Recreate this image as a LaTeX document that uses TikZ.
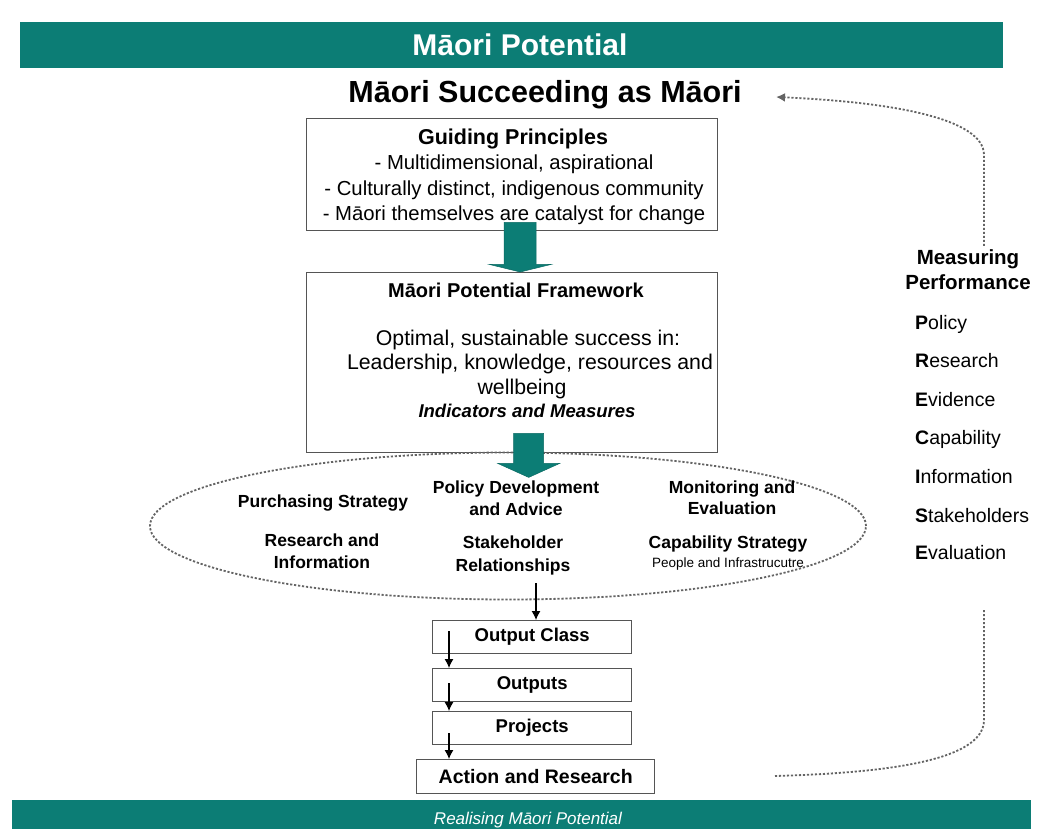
\documentclass[tikz,border=0pt]{standalone}
\usepackage{fontspec}
\setmainfont{Liberation Sans}
\usetikzlibrary{shapes.geometric,arrows.meta,calc}
\definecolor{mpteal}{RGB}{12,125,117}
\definecolor{boxline}{RGB}{85,85,85}
\definecolor{dotgray}{RGB}{100,100,100}
\newcommand{\fsz}[2]{\fontsize{#1}{#2}\selectfont}

\begin{document}
\begin{tikzpicture}[x=1pt,y=-1pt,
  banner/.style={fill=mpteal, draw=none, inner sep=0pt, anchor=north west},
  box/.style={draw=boxline, line width=1.4pt, fill=white, inner sep=0pt, anchor=north west},
  smallbox/.style={box, font=\bfseries\fsz{18.5}{20}},
  txt/.style={inner sep=0pt, anchor=base, text=black},
  head/.style={txt, font=\bfseries\fsz{21.5}{24}},
  body/.style={txt, font=\fsz{20.3}{24}},
  fbody/.style={txt, font=\fsz{21.3}{24}},
  oval/.style={txt, font=\bfseries\fsz{17.5}{20}},
  meas/.style={inner sep=0pt, anchor=base west, font=\fsz{19.5}{22}},
  blockarrow/.style={fill=mpteal, draw=mpteal!85!black, line width=0.5pt},
  flow/.style={line width=1.1pt, -{Latex[length=9pt,width=9pt]}},
  dots/.style={draw=dotgray, line width=1.8pt, dash pattern=on 2.2pt off 1.8pt},
]
\useasboundingbox (0,0) rectangle (1039,829);

% banners
\node[banner, minimum width=983, minimum height=46] (topbar) at (20,22) {};
\node[txt, text=white, font=\bfseries\fsz{30}{34}] (topT) at (520,56) {Māori Potential};
\node[banner, minimum width=1019, minimum height=29] (botbar) at (12,800) {};
\node[txt, text=white, font=\itshape\fsz{17}{20}] (botT) at (528,824) {Realising Māori Potential};

% heading
\node[txt, font=\bfseries\fsz{30.5}{34}] (succ) at (545,103) {Māori Succeeding as Māori};

% guiding principles
\node[box, minimum width=411, minimum height=112] (gp) at (306,118) {};
\node[head] (gp1) at (513,145) {Guiding Principles};
\node[body] (gp2) at (514,170) {- Multidimensional, aspirational};
\node[body] (gp3) at (514,196) {- Culturally distinct, indigenous community};
\node[body] (gp4) at (514,221) {- Māori themselves are catalyst for change};

% framework
\node[box, minimum width=411, minimum height=180] (fw) at (306,272) {};
\node[head, font=\bfseries\fsz{20}{22}] (fw1) at (516,298) {Māori Potential Framework};
\node[fbody] (fw2) at (528,345) {Optimal, sustainable success in:};
\node[fbody] (fw3) at (530,369) {Leadership, knowledge, resources and};
\node[fbody] (fw4) at (522,394) {wellbeing};
\node[txt, font=\bfseries\itshape\fsz{18.5}{20}] (fw5) at (527,417) {Indicators and Measures};

% teal block arrows between the boxes
\coordinate (a1) at ($(gp.south)+(8,0)$);
\path[blockarrow] ($(a1)+(-16,-9)$) -- ($(a1)+(16,-9)$) -- ($(a1)+(16,33)$)
  -- ($(a1)+(31,33)$) -- (a1 |- fw.north) -- ($(a1)+(-31,33)$) -- ($(a1)+(-16,33)$) -- cycle;

% activity ellipse
\node[ellipse, dots, minimum width=716, minimum height=147, inner sep=0pt] (el) at (508,526) {};

\coordinate (a2) at ($(fw.south)+(16.5,0)$);
\path[blockarrow] ($(a2)+(-15,-20)$) -- ($(a2)+(15,-20)$) -- ($(a2)+(15,10)$)
  -- ($(a2)+(31,10)$) -- ($(a2)+(0,24)$) -- ($(a2)+(-31,10)$) -- ($(a2)+(-15,10)$) -- cycle;

\node[oval] (pu) at (323,507) {Purchasing Strategy};
\node[oval] (pd1) at (516,493) {Policy Development};
\node[oval] (pd2) at (516,515) {and Advice};
\node[oval] (me1) at (732,493) {Monitoring and};
\node[oval] (me2) at (732,514) {Evaluation};
\node[oval] (ri1) at (322,546) {Research and};
\node[oval] (ri2) at (322,568) {Information};
\node[oval] (sr1) at (513,548) {Stakeholder};
\node[oval] (sr2) at (513,571) {Relationships};
\node[oval] (cs1) at (728,548) {Capability Strategy};
\node[txt, font=\fsz{13.5}{15}] (cs2) at (728,567) {People and Infrastrucutre};

% output chain
\node[smallbox, minimum width=199, minimum height=33] (oc) at (432,620) {Output Class};
\node[smallbox, minimum width=199, minimum height=33] (op) at (432,668) {Outputs};
\node[smallbox, minimum width=199, minimum height=33] (pj) at (432,711) {Projects};
\node[smallbox, font=\bfseries\fsz{19.5}{22}, minimum width=238, minimum height=34] (ar) at (416,759) {Action and Research};

\coordinate (elOut) at (536,583);
\draw[flow] (elOut) -- (elOut |- oc.north);
\draw[flow] ($(oc.south west)+(17,-23)$) -- ($(op.north west)+(17,0)$);
\draw[flow] ($(op.south west)+(17,-19)$) -- ($(pj.north west)+(17,0)$);
\draw[flow] ($(pj.south west)+(17,-12)$) -- ($(ar.north west)+(33,0)$);

% measuring performance
\node[txt, font=\bfseries\fsz{20.5}{23}] (mp1) at (968,265) {Measuring};
\node[txt, font=\bfseries\fsz{20.5}{23}] (mp2) at (968,290) {Performance};
\node[meas] (l1) at (915,329) {\textbf{P}olicy};
\node[meas] (l2) at (915,367) {\textbf{R}esearch};
\node[meas] (l3) at (915,406) {\textbf{E}vidence};
\node[meas] (l4) at (915,444) {\textbf{C}apability};
\node[meas] (l5) at (915,483) {\textbf{I}nformation};
\node[meas] (l6) at (915,522) {\textbf{S}takeholders};
\node[meas] (l7) at (915,559) {\textbf{E}valuation};

% feedback loop
\coordinate (loopTop) at (984,246);
\coordinate (loopTip) at (776,97);
\coordinate (loopBot) at (984,610);
\coordinate (loopEnd) at (775,776);
\draw[dots, -{Latex[length=9pt,width=9pt]}] (loopTop) -- (984,155)
  .. controls (984,118) and (890,102) .. (loopTip);
\draw[dots] (loopBot) -- (984,720) .. controls (984,762) and (880,773) .. (loopEnd);
\end{tikzpicture}
\end{document}
